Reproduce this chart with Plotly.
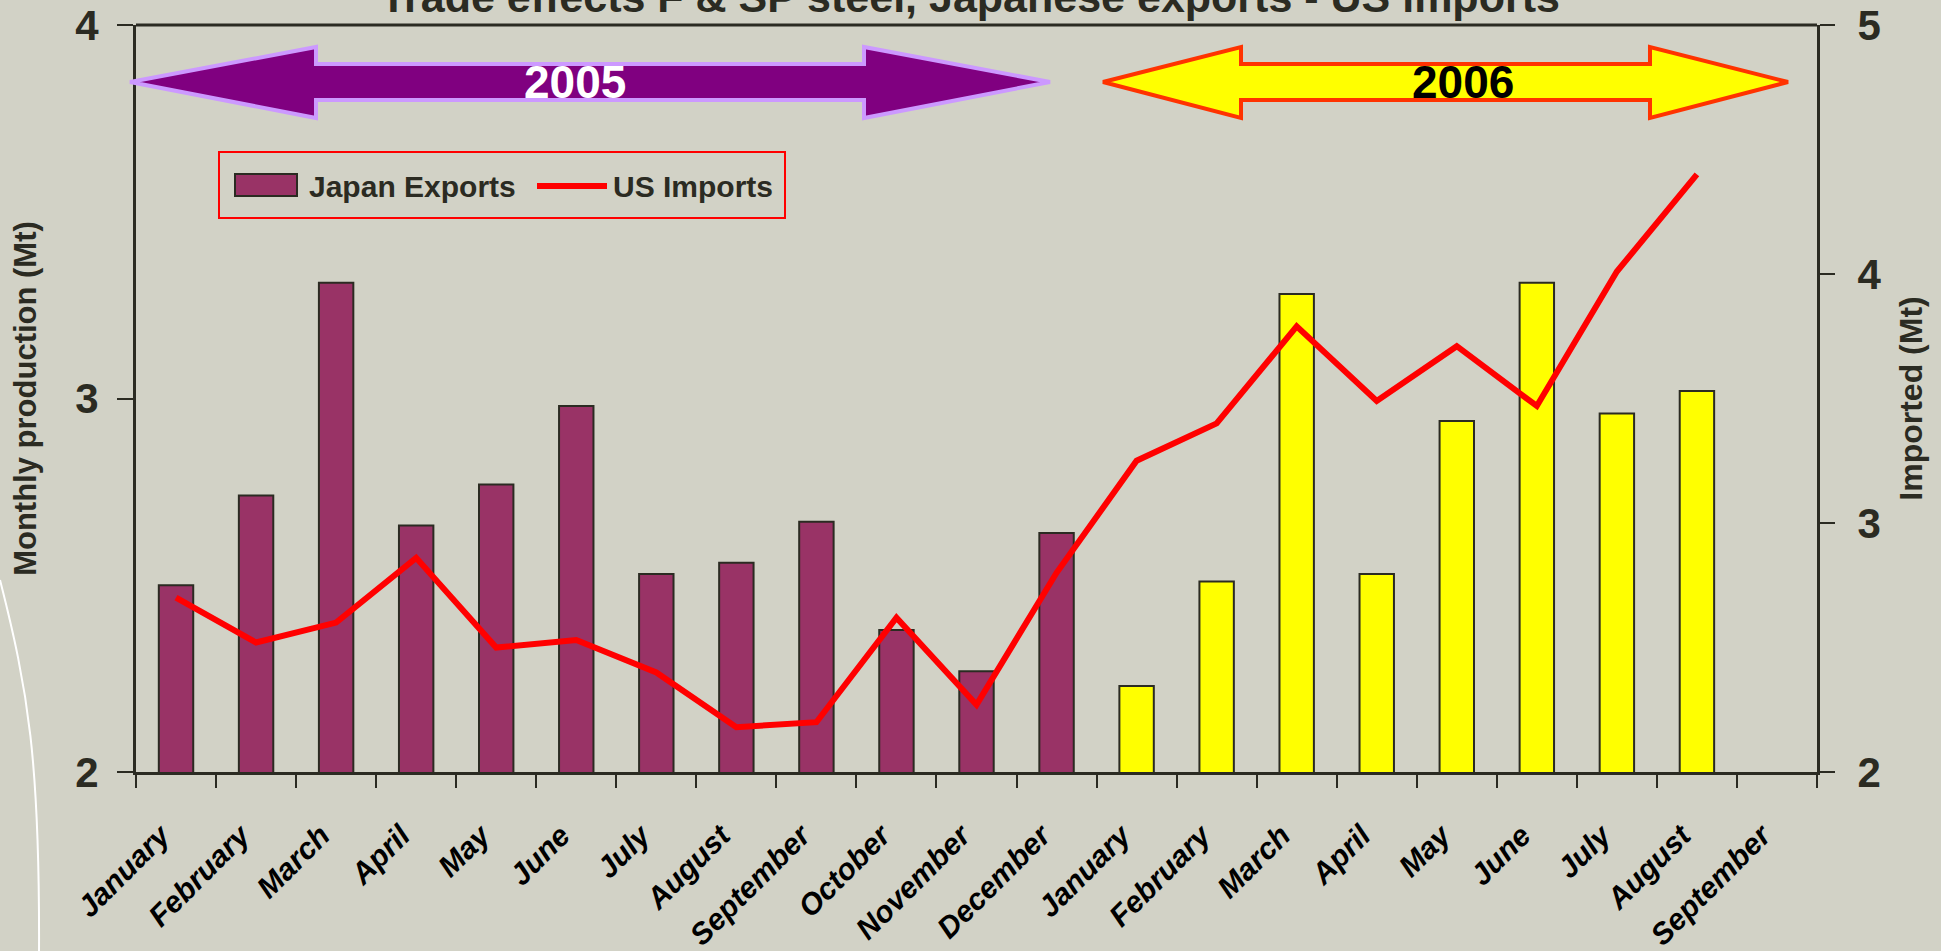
import plotly.graph_objects as go

# ---------------- data ----------------
months = ["January", "February", "March", "April", "May", "June", "July", "August",
          "September", "October", "November", "December",
          "January", "February", "March", "April", "May", "June", "July", "August",
          "September"]
years = ["2005"] * 12 + ["2006"] * 9
categories = [f"{m} {y}" for m, y in zip(months, years)]

japan_exports = [2.50, 2.74, 3.31, 2.66, 2.77, 2.98, 2.53, 2.56, 2.67, 2.38, 2.27, 2.64,
                 2.23, 2.51, 3.28, 2.53, 2.94, 3.31, 2.96, 3.02, None]
us_imports = [2.70, 2.52, 2.60, 2.86, 2.50, 2.53, 2.40, 2.18, 2.20, 2.62, 2.27, 2.80,
              3.25, 3.40, 3.79, 3.49, 3.71, 3.47, 4.01, 4.40]
left_ticks = [2, 3, 4]
right_ticks = [2, 3, 4, 5]

# ---------------- styling ----------------
BG = "#D2D2C6"
DARK = "#2B2B22"
PURPLE = "#993366"
FONT = "Liberation Sans, Arial, sans-serif"
W, H = 1941, 951
L, R, T, B = 136, 1817, 25, 772  # plot area in pixels


def px(X):
    return (X - L) / (R - L)


def py(Y):
    return (B - Y) / (B - T)


bar_colors = [PURPLE if y == "2005" else "#FFFF00" for y in years]

fig = go.Figure()
fig.add_trace(go.Bar(
    x=categories, y=japan_exports, name="Japan Exports",
    marker=dict(color=bar_colors, line=dict(color=DARK, width=2)),
    yaxis="y", showlegend=False,
))
fig.add_trace(go.Scatter(
    x=categories[:len(us_imports)], y=us_imports, name="US Imports",
    mode="lines", line=dict(color="#FF0000", width=6), yaxis="y2", showlegend=False,
))

shapes = []
# top frame line
shapes.append(dict(type="line", xref="paper", yref="paper", x0=0, x1=1, y0=1, y1=1,
                   line=dict(color=DARK, width=3)))


def arrow_path(xl, hb1, hb2, xr, ytop, ysh1, ysh2, ybot, ymid):
    pts = [(xl, ymid), (hb1, ytop), (hb1, ysh1), (hb2, ysh1), (hb2, ytop), (xr, ymid),
           (hb2, ybot), (hb2, ysh2), (hb1, ysh2), (hb1, ybot)]
    return "M " + " L ".join(f"{px(a):.5f},{py(b):.5f}" for a, b in pts) + " Z"


shapes.append(dict(type="path", xref="paper", yref="paper",
                   path=arrow_path(130, 316, 864, 1050, 47, 64, 100, 118, 82),
                   fillcolor="#800080", line=dict(color="#CC99FF", width=4)))
shapes.append(dict(type="path", xref="paper", yref="paper",
                   path=arrow_path(1103, 1241, 1650, 1788, 47, 64, 100, 118, 82),
                   fillcolor="#FFFF00", line=dict(color="#FF3300", width=4)))
# decorative white curve at left
curve = (f"M {px(0):.5f},{py(580):.5f} C {px(28):.5f},{py(690):.5f} "
         f"{px(40):.5f},{py(760):.5f} {px(39):.5f},{py(955):.5f}")
shapes.append(dict(type="path", xref="paper", yref="paper", path=curve,
                   line=dict(color="white", width=2)))

# legend (drawn as a framed key)
shapes.append(dict(type="rect", xref="paper", yref="paper",
                   x0=px(219), x1=px(785), y0=py(152), y1=py(218),
                   line=dict(color="#FF0000", width=2), fillcolor="rgba(0,0,0,0)"))
shapes.append(dict(type="rect", xref="paper", yref="paper",
                   x0=px(235), x1=px(297), y0=py(174), y1=py(196),
                   line=dict(color=DARK, width=2), fillcolor=PURPLE))
shapes.append(dict(type="line", xref="paper", yref="paper",
                   x0=px(537), x1=px(607), y0=py(186), y1=py(186),
                   line=dict(color="#FF0000", width=6)))

annotations = [
    dict(text="<b>2005</b>", x=px(575), y=py(82), xref="paper", yref="paper",
         showarrow=False, font=dict(family=FONT, size=46, color="white"),
         xanchor="center", yanchor="middle"),
    dict(text="<b>2006</b>", x=px(1463), y=py(82), xref="paper", yref="paper",
         showarrow=False, font=dict(family=FONT, size=46, color="black"),
         xanchor="center", yanchor="middle"),
    dict(text="<b>Japan Exports</b>", x=px(307), y=py(186), xref="paper", yref="paper",
         showarrow=False, font=dict(family=FONT, size=30, color=DARK),
         xanchor="left", yanchor="middle"),
    dict(text="<b>US Imports</b>", x=px(611), y=py(186), xref="paper", yref="paper",
         showarrow=False, font=dict(family=FONT, size=30, color=DARK),
         xanchor="left", yanchor="middle"),
]

fig.update_layout(
    width=W, height=H,
    paper_bgcolor=BG, plot_bgcolor=BG,
    margin=dict(l=L, r=W - R, t=T, b=H - B, pad=0, autoexpand=False),
    title=dict(text="<b>Trade effects F & SP steel, Japanese exports - US imports</b>",
               x=970 / W, xanchor="center", y=1 - 12 / H, yanchor="bottom",
               yref="container", font=dict(family=FONT, size=43, color=DARK)),
    bargap=0.57,
    showlegend=False,
    xaxis=dict(type="category", categoryorder="array", categoryarray=categories,
               tickmode="array", tickvals=categories, ticktext=months,
               automargin=False,
               tickson="boundaries", ticks="outside", ticklen=13, tickwidth=2,
               tickcolor=DARK, showline=True, linewidth=3, linecolor=DARK,
               showgrid=False, zeroline=False, tickangle=-45,
               ticklabelstandoff=31, ticklabelshift=-15,
               tickfont=dict(family=FONT, size=30, color="black", weight="bold",
                             style="italic"),
               range=[-0.5, len(categories) - 0.5]),
    yaxis=dict(range=[2, 4], tickmode="array", tickvals=left_ticks, automargin=False,
               ticks="outside", ticklen=16, tickwidth=2, tickcolor=DARK,
               showline=True, linewidth=3, linecolor=DARK, showgrid=False,
               zeroline=False, ticklabelstandoff=10, ticklabeloverflow="allow",
               tickfont=dict(family=FONT, size=42, color=DARK, weight="bold"),
               title=dict(text="<b>Monthly production (Mt)</b>", standoff=30,
                          font=dict(family=FONT, size=31, color=DARK))),
    yaxis2=dict(range=[2, 5], tickmode="array", tickvals=right_ticks, overlaying="y",
                side="right", ticks="outside", ticklen=15, tickwidth=2, tickcolor=DARK,
                automargin=False,
                showline=True, linewidth=3, linecolor=DARK, showgrid=False,
                zeroline=False, ticklabelstandoff=14, ticklabeloverflow="allow",
                tickfont=dict(family=FONT, size=42, color=DARK, weight="bold"),
                title=dict(text="<b>Imported (Mt)</b>", standoff=20,
                           font=dict(family=FONT, size=32, color=DARK))),
    shapes=shapes,
    annotations=annotations,
)

fig.write_html("out.html", config={"displayModeBar": False},
               post_script="document.body.style.margin='0px';")
